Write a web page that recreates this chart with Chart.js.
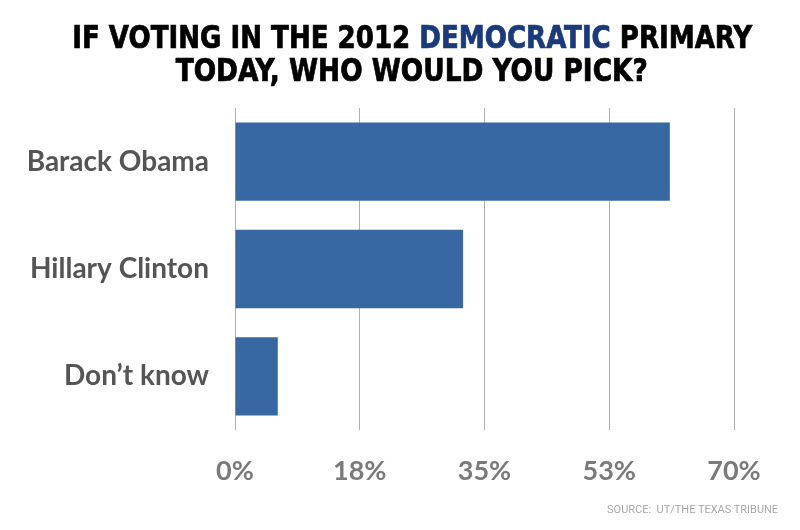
<!DOCTYPE html>
<html>
<head>
<meta charset="utf-8">
<script src="https://cdn.jsdelivr.net/npm/chart.js@4"></script>
<style>
  html, body { margin: 0; padding: 0; background: #fff; }
  #wrap { position: relative; width: 800px; height: 530px; }
  .tl {
    position: absolute; left: 12px; width: 800px; text-align: center; white-space: nowrap;
    font-family: "DejaVu Sans", sans-serif; font-stretch: condensed;
    font-weight: bold; font-size: 32px; line-height: 32px; color: #000;
    -webkit-text-stroke: 0.7px #000;
  }
  .tl span.in { display: inline-block; transform-origin: 50% 50%; }
  .dem { color: #1b3a7a; -webkit-text-stroke: 0.7px #1b3a7a; }
  #source {
    position: absolute; right: 22px; top: 502px; white-space: nowrap;
    font-family: "Roboto", "Liberation Sans", sans-serif;
    font-size: 11.5px; color: #a8a8a8;
  }
  canvas { position: absolute; left: 0; top: 0; }
</style>
</head>
<body>
<div id="wrap">
  <canvas id="c" width="800" height="530"></canvas>
  <div class="tl" id="t1" style="top:21px"><span class="in" data-w="680">IF VOTING IN THE 2012 <span class="dem">DEMOCRATIC</span> PRIMARY</span></div>
  <div class="tl" id="t2" style="top:54px"><span class="in" data-w="472">TODAY, WHO WOULD YOU PICK?</span></div>
  <div id="source"><span class="in2">SOURCE:&nbsp; UT/THE TEXAS TRIBUNE</span></div>
</div>
<script>
const categories = ["Barack Obama", "Hillary Clinton", "Don\u2019t know"];
const values = [61, 32, 6];
const tickLabels = ["0%", "18%", "35%", "53%", "70%"];

document.querySelectorAll(".tl span.in").forEach(el => {
  const w = el.getBoundingClientRect().width;
  const target = parseFloat(el.dataset.w);
  el.style.transform = "scaleX(" + (target / w) + ")";
});
(function(){
  const el = document.querySelector("#source .in2");
  el.style.display = "inline-block";
  el.style.transformOrigin = "100% 50%";
  const w = el.getBoundingClientRect().width;
  el.style.transform = "scaleX(" + (171 / w) + ")";
})();

new Chart(document.getElementById("c"), {
  type: "bar",
  data: {
    labels: categories,
    datasets: [{
      data: values,
      backgroundColor: "#3868a2",
      barPercentage: 0.73,
      categoryPercentage: 1.0
    }]
  },
  options: {
    indexAxis: "y",
    responsive: false,
    animation: false,
    layout: { padding: { top: 108, right: 66, bottom: 0, left: 0 } },
    plugins: { legend: { display: false }, tooltip: { enabled: false } },
    scales: {
      x: {
        min: 0, max: 70,
        border: { display: false },
        grid: { color: "#b0b0b0", lineWidth: 1, drawTicks: false },
        ticks: {
          stepSize: 17.5,
          padding: 25,
          color: "#7a7a7a",
          font: { family: "Lato", size: 27, weight: "bold" },
          callback: (v, i) => tickLabels[i]
        },
        afterFit: (s) => { s.height = 100; }
      },
      y: {
        border: { display: false },
        grid: { display: false, drawTicks: false },
        ticks: {
          padding: 26,
          color: "#555555",
          font: { family: "Lato", size: 28, weight: "bold" }
        },
        afterFit: (s) => { s.width = 235; }
      }
    }
  }
});
</script>
</body>
</html>
